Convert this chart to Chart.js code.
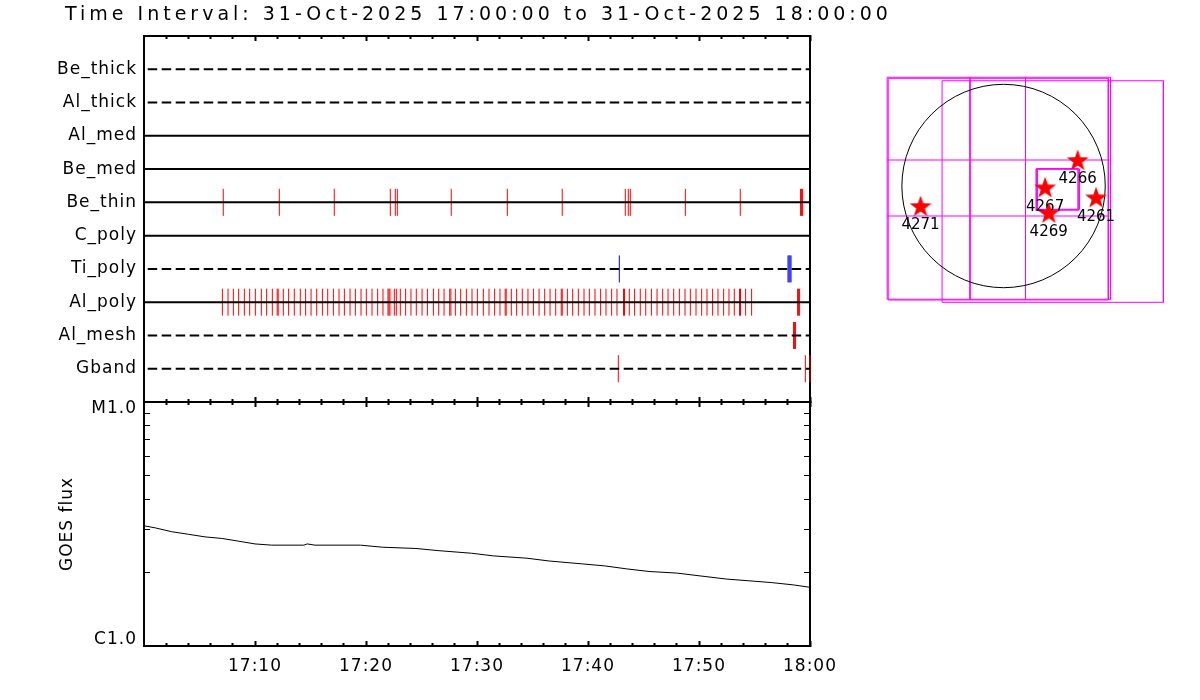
<!DOCTYPE html>
<html><head><meta charset="utf-8">
<script src="https://cdn.jsdelivr.net/npm/chart.js@4.4.1/dist/chart.umd.min.js"></script>
<style>
html,body{margin:0;padding:0;background:#fff;}
#wrap{position:relative;width:1200px;height:700px;overflow:hidden;background:#fff;}
#wrap canvas{position:absolute;left:0;top:0;}
</style></head><body>
<div id="wrap">
<canvas id="rows" width="1200" height="700"></canvas>
<canvas id="goes" width="1200" height="700"></canvas>
<canvas id="map" width="1200" height="700"></canvas>
</div>
<script>
// ---------------- data ----------------
const TITLE = 'Time Interval: 31-Oct-2025 17:00:00 to 31-Oct-2025 18:00:00';
const ROW_NAMES = ['Be_thick','Al_thick','Al_med','Be_med','Be_thin','C_poly','Ti_poly','Al_poly','Al_mesh','Gband'];

// event times, minutes after 17:00
const EVT_BE_THIN = [7.14, 12.19, 17.14, 22.19, 22.64, 22.82, 27.68, 32.73, 37.68, 43.36, 43.63, 43.81, 48.77, 53.72, 59.14, 59.23, 59.32];
const EVT_TI_POLY = [42.82, 58.02, 58.11, 58.20, 58.29];
const EVT_AL_POLY = [7.06, 7.57, 8.05, 8.53, 9.04, 9.52, 10.03, 10.57, 11.05, 11.56, 12.0, 12.09, 12.55, 13.03, 13.54, 14.08, 14.56, 15.05, 15.56, 16.07, 16.55, 17.06, 17.57, 18.05, 18.56, 19.04, 19.55, 20.03, 20.54, 21.05, 21.53, 21.98, 22.07, 22.16, 22.55, 22.73, 23.09, 23.57, 24.05, 24.53, 25.05, 25.53, 26.07, 26.55, 27.03, 27.54, 27.65, 28.05, 28.53, 29.04, 29.55, 30.03, 30.57, 31.08, 31.59, 32.07, 32.54, 32.63, 33.09, 33.57, 34.08, 34.59, 35.08, 35.59, 36.10, 36.58, 37.09, 37.59, 37.68, 38.14, 38.62, 39.13, 39.64, 40.12, 40.63, 41.14, 41.62, 42.13, 42.61, 43.20, 43.29, 43.72, 44.20, 44.71, 45.20, 45.71, 46.22, 46.73, 47.21, 47.72, 48.23, 48.74, 49.22, 49.73, 50.24, 50.72, 51.23, 51.71, 52.22, 52.70, 53.18, 53.65, 53.74, 54.20, 54.74, 58.88, 58.97, 59.06];
const EVT_AL_MESH = [58.51, 58.60, 58.69];
const EVT_GBAND = [42.73, 59.58, 60.0];

// time axis
const MAJOR_TICK_MIN = [10, 20, 30, 40, 50, 60];
const MAJOR_TICK_LABELS = ['17:10', '17:20', '17:30', '17:40', '17:50', '18:00'];
const MINOR_TICK_MIN = [2, 4, 6, 8, 12, 14, 16, 18, 22, 24, 26, 28, 32, 34, 36, 38, 42, 44, 46, 48, 52, 54, 56, 58];

// GOES flux (W/m^2)
const GOES_MIN  = [0, 1, 2.5, 4, 5.5, 7, 8.5, 10, 11.5, 14.4, 14.7, 15.4, 19.5, 21.5, 24.5, 26.5, 29.5, 31.5, 34.5, 36.5, 39.5, 41.5, 43.5, 45.5, 48, 50, 52.5, 54.5, 56.5, 58.5, 60];
const GOES_FLUX = [3.11e-6, 3.05e-6, 2.94e-6, 2.87e-6, 2.80e-6, 2.76e-6, 2.69e-6, 2.62e-6, 2.59e-6, 2.59e-6, 2.62e-6, 2.59e-6, 2.59e-6, 2.54e-6, 2.51e-6, 2.46e-6, 2.40e-6, 2.34e-6, 2.29e-6, 2.23e-6, 2.17e-6, 2.13e-6, 2.07e-6, 2.02e-6, 1.99e-6, 1.94e-6, 1.88e-6, 1.85e-6, 1.82e-6, 1.78e-6, 1.74e-6];
const FLUX_TICKS = [1e-6, 2e-6, 3e-6, 4e-6, 5e-6, 6e-6, 7e-6, 8e-6, 9e-6, 1e-5];
const FLUX_TICK_LABELS = ['C1.0', '', '', '', '', '', '', '', '', 'M1.0'];

// solar map (arcsec)
const SOLAR_RADIUS_ARCSEC = 969;
const AR_NUMBERS = ['4266', '4267', '4261', '4269', '4271'];
const AR_X = [706, 396, 881, 430, -791];
const AR_Y = [247, -12, -107, -254, -190];
const FOV_A1 = [[-1109, 1033], [1019, 1033], [1019, -1076], [-1109, -1076], [-1109, 1033]];
const FOV_A2 = [[-1099, 1023], [998, 1023], [998, -1083], [-1099, -1083], [-1099, 1023]];
const FOV_B  = [[-586, 1000], [1523, 1000], [1523, -1105], [-586, -1105], [-586, 1000]];
const FOV_V1 = [[-320, 1033], [-320, -1083]];
const FOV_V2 = [[209, 1033], [209, -1083]];
const FOV_H1 = [[-1109, 247], [1000, 247]];
const FOV_H2 = [[-1109, -285], [1000, -285]];
const FOV_C1 = [[311, 164], [710, 164], [710, -228], [311, -228], [311, 164]];
const FOV_C2 = [[323, 159], [722, 159], [722, -221], [323, -221], [323, 159]];

// ---------------- rendering ----------------
Chart.defaults.font.family = "'DejaVu Sans', sans-serif";
Chart.defaults.color = '#000';
Chart.defaults.animation = false;

const ROW_DASHED = [true, true, false, false, false, false, true, false, true, true];
const BLACK = '#000';
const spacing = sp => ({ id: 'letterSpacing', beforeDraw(chart) { chart.ctx.letterSpacing = sp; } });

function timeAxis(position, values, len, labels, extra) {
  return Object.assign({
    type: 'linear', position, min: 0, max: 60, display: true,
    afterBuildTicks: s => { s.ticks = values.map(v => ({ value: v })); },
    afterFit: s => { s.height = labels ? 54 : 0; },
    grid: { display: true, drawOnChartArea: false, drawTicks: true, tickLength: -len, tickWidth: 2, tickColor: BLACK },
    border: { display: true, width: 2, color: BLACK },
    ticks: labels
      ? { display: true, autoSkip: false, maxRotation: 0, minRotation: 0, padding: 15, font: { size: 17 }, callback: (v, i) => labels[i] }
      : { display: false }
  }, extra || {});
}

// ---- chart 1: event rows ----
const rowDatasets = ROW_NAMES.map((name, i) => ({
  label: name, showLine: true, data: [{ x: 0, y: i + 1 }, { x: 60, y: i + 1 }],
  borderColor: BLACK, borderWidth: 2, borderDash: ROW_DASHED[i] ? [9.5, 4.5] : [], borderDashOffset: 10.3,
  pointRadius: 0, xAxisID: 'x', yAxisID: 'y'
}));
function eventSet(times, row, color) {
  return {
    label: ROW_NAMES[row] + ' events', showLine: false,
    data: times.map(t => ({ x: t, y: row + 1 })),
    pointStyle: 'line', pointRotation: 90, pointRadius: 13.5, pointHoverRadius: 13.5,
    pointBorderColor: color, pointBorderWidth: 1, pointBackgroundColor: color,
    clip: false, xAxisID: 'x', yAxisID: 'y'
  };
}
const eventDatasets = [
  eventSet(EVT_BE_THIN, 4, '#ff0000'),
  eventSet(EVT_TI_POLY, 6, '#0000ff'),
  eventSet(EVT_AL_POLY, 7, '#ff0000'),
  eventSet(EVT_AL_MESH, 8, '#ff0000'),
  eventSet(EVT_GBAND, 9, '#ff0000')
];

const titlePlugin = {
  id: 'bigTitle',
  afterDraw(chart) {
    const ctx = chart.ctx;
    ctx.save();
    ctx.letterSpacing = '4px';
    ctx.font = "19px 'DejaVu Sans'";
    ctx.fillStyle = BLACK;
    ctx.textAlign = 'left';
    ctx.textBaseline = 'middle';
    ctx.fillText(TITLE, 65, 15);
    ctx.restore();
  }
};

new Chart(document.getElementById('rows'), {
  type: 'scatter',
  data: { datasets: rowDatasets.concat(eventDatasets) },
  options: {
    responsive: false, devicePixelRatio: 1, animation: false, events: [],
    layout: { padding: { left: 0, top: 36, right: 390, bottom: 298 } },
    plugins: { legend: { display: false }, tooltip: { enabled: false }, title: { display: false } },
    scales: {
      x:   timeAxis('bottom', MINOR_TICK_MIN, 3, null, { weight: 0 }),
      xB:  timeAxis('bottom', MAJOR_TICK_MIN, 5, null, { weight: 1 }),
      xT:  timeAxis('top', MINOR_TICK_MIN, 3, null, { weight: 0 }),
      xTM: timeAxis('top', MAJOR_TICK_MIN, 5, null, { weight: 1 }),
      y: {
        type: 'linear', position: 'left', min: 0, max: 11, reverse: true,
        afterBuildTicks: s => { s.ticks = ROW_NAMES.map((_, i) => ({ value: i + 1 })); },
        afterFit: s => { s.width = 144; },
        grid: { display: false, drawTicks: false },
        border: { display: true, width: 2, color: BLACK },
        ticks: { autoSkip: false, padding: 7, font: { size: 17 }, callback: (v, i) => ROW_NAMES[i] }
      },
      yR: {
        type: 'linear', position: 'right', min: 0, max: 11,
        afterFit: s => { s.width = 0; },
        grid: { display: false, drawTicks: false },
        border: { display: true, width: 2, color: BLACK },
        ticks: { display: false }
      }
    }
  },
  plugins: [spacing('1px'), titlePlugin]
});

// ---- chart 2: GOES flux ----
new Chart(document.getElementById('goes'), {
  type: 'scatter',
  data: {
    datasets: [{
      label: 'GOES', showLine: true,
      data: GOES_MIN.map((t, i) => ({ x: t, y: GOES_FLUX[i] })),
      borderColor: BLACK, borderWidth: 1, pointRadius: 0, tension: 0,
      xAxisID: 'x', yAxisID: 'y'
    }]
  },
  options: {
    responsive: false, devicePixelRatio: 1, animation: false, events: [],
    layout: { padding: { left: 0, top: 402, right: 390, bottom: 0 } },
    plugins: { legend: { display: false }, tooltip: { enabled: false } },
    scales: {
      x:   timeAxis('bottom', MINOR_TICK_MIN, 3, null, { weight: 0 }),
      xB:  timeAxis('bottom', MAJOR_TICK_MIN, 5, MAJOR_TICK_LABELS, { weight: 1 }),
      xT:  timeAxis('top', MINOR_TICK_MIN, 3, null, { weight: 0 }),
      xTM: timeAxis('top', MAJOR_TICK_MIN, 5, null, { weight: 1 }),
      y: {
        type: 'logarithmic', position: 'left', min: 1e-6, max: 1e-5,
        afterBuildTicks: s => { s.ticks = FLUX_TICKS.map(v => ({ value: v })); },
        afterFit: s => { s.width = 144; },
        grid: { display: true, drawOnChartArea: false, drawTicks: true, tickLength: -6, tickWidth: 1, tickColor: BLACK },
        border: { display: true, width: 2, color: BLACK },
        ticks: {
          autoSkip: false, padding: 13, font: { size: 17, lineHeight: 0.75 },
          callback: (v, i) => {
            const t = FLUX_TICK_LABELS[i];
            if (!t) return '';
            return i === 0 ? [t, ''] : ['', t];
          }
        },
        title: { display: true, text: 'GOES flux', font: { size: 17 }, padding: { top: 57, bottom: 0 } }
      },
      yR: {
        type: 'logarithmic', position: 'right', min: 1e-6, max: 1e-5,
        afterBuildTicks: s => { s.ticks = FLUX_TICKS.map(v => ({ value: v })); },
        afterFit: s => { s.width = 0; },
        grid: { display: true, drawOnChartArea: false, drawTicks: true, tickLength: -6, tickWidth: 1, tickColor: BLACK },
        border: { display: true, width: 2, color: BLACK },
        ticks: { display: false }
      }
    }
  },
  plugins: [spacing('1px')]
});

// ---- chart 3: solar map ----
function makeStar(outer, inner, color) {
  const s = 24;
  const c = document.createElement('canvas');
  c.width = s; c.height = s;
  const g = c.getContext('2d');
  g.fillStyle = color;
  g.beginPath();
  for (let k = 0; k < 10; k++) {
    const r = k % 2 ? inner : outer;
    const a = -Math.PI / 2 + k * Math.PI / 5;
    const px = s / 2 + r * Math.cos(a), py = s / 2 + 1 + r * Math.sin(a);
    if (k) g.lineTo(px, py); else g.moveTo(px, py);
  }
  g.closePath();
  g.fill();
  return c;
}
const STAR = makeStar(11.5, 4.6, '#ff0000');
const MAGENTA = '#ff00ff';
const fov = (pts) => ({
  showLine: true, data: pts.map(p => ({ x: p[0], y: p[1] })),
  borderColor: MAGENTA, borderWidth: 1, pointRadius: 0, tension: 0, fill: false
});
const arLabels = {
  id: 'arLabels',
  beforeDatasetDraw(chart, args) {
    if (args.index !== 0) return;
    const ctx = chart.ctx;
    const meta = chart.getDatasetMeta(0);
    ctx.save();
    ctx.font = "15px 'DejaVu Sans'";
    ctx.fillStyle = BLACK;
    ctx.textAlign = 'center';
    ctx.textBaseline = 'middle';
    meta.data.forEach((el, i) => ctx.fillText(AR_NUMBERS[i], el.x, el.y + 19.5));
    ctx.restore();
  }
};
const limbRadius = ctx => {
  const s = ctx.chart.scales.x;
  return Math.abs(s.getPixelForValue(SOLAR_RADIUS_ARCSEC) - s.getPixelForValue(0));
};
new Chart(document.getElementById('map'), {
  type: 'scatter',
  data: {
    datasets: [
      {
        label: 'AR', showLine: false,
        data: AR_X.map((x, i) => ({ x, y: AR_Y[i] })),
        pointStyle: STAR, pointRadius: 10, pointHoverRadius: 10
      },
      {
        label: 'limb', showLine: false, data: [{ x: 0, y: 0 }],
        pointStyle: 'circle', pointRadius: limbRadius, pointHoverRadius: limbRadius,
        pointBackgroundColor: 'rgba(0,0,0,0)', pointBorderColor: BLACK, pointBorderWidth: 1
      },
      fov(FOV_A1), fov(FOV_A2), fov(FOV_B), fov(FOV_V1), fov(FOV_V2), fov(FOV_H1), fov(FOV_H2),
      Object.assign(fov(FOV_C1), { borderWidth: 1.5 }), fov(FOV_C2)
    ]
  },
  options: {
    responsive: false, devicePixelRatio: 1, animation: false, events: [],
    layout: { padding: { left: 860, top: 40, right: 10, bottom: 370 } },
    plugins: { legend: { display: false }, tooltip: { enabled: false } },
    scales: {
      x: { type: 'linear', display: false, min: -1368, max: 1767 },
      y: { type: 'linear', display: false, min: -1368, max: 1387 }
    }
  },
  plugins: [arLabels]
});
</script>
</body></html>
